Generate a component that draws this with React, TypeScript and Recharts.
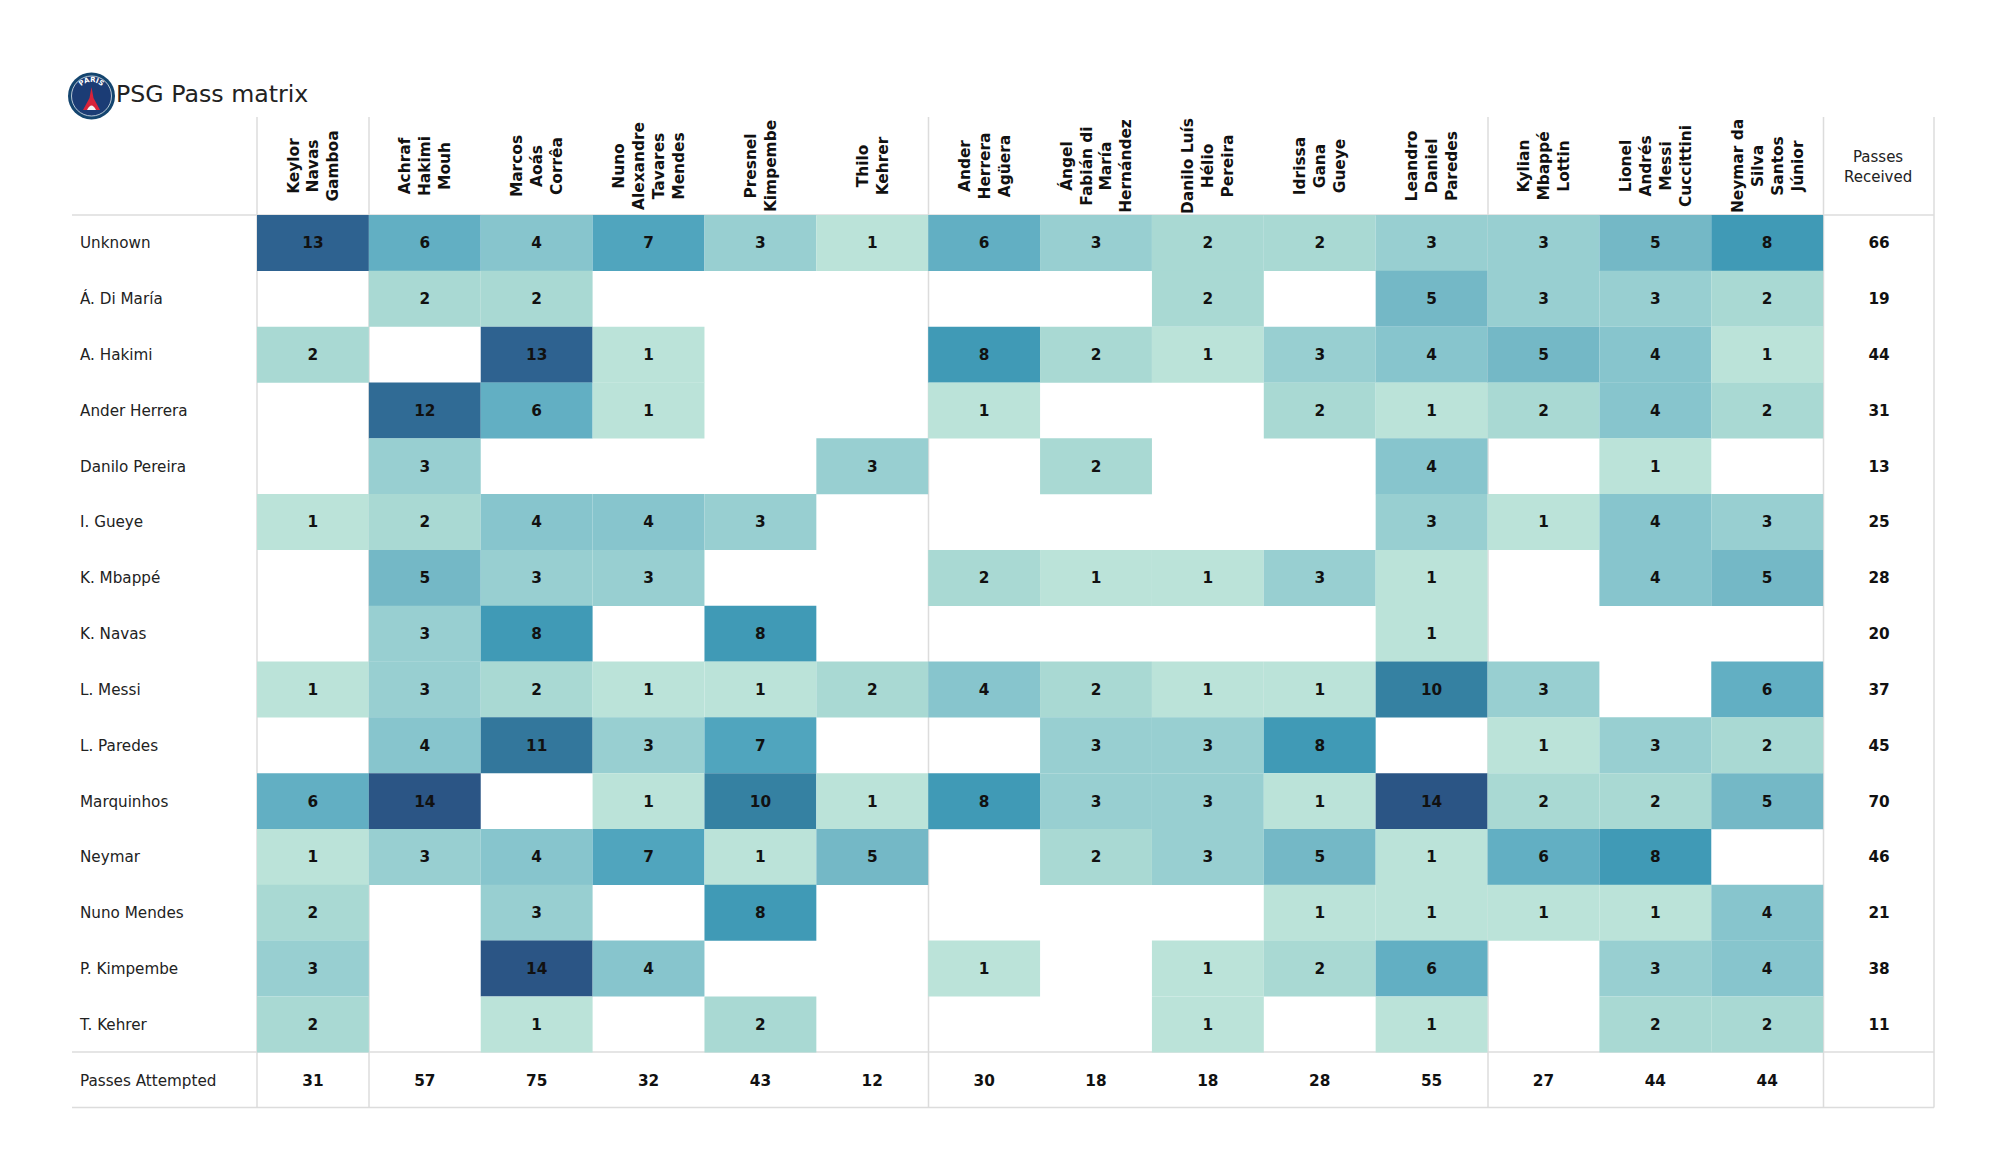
import { BarChart, Bar, Cell, LabelList, XAxis, YAxis } from 'recharts';

const FONT = '"DejaVu Sans", sans-serif';
const LINE = '#dcdcdc';

const receivers = [
  ['Keylor', 'Navas', 'Gamboa'],
  ['Achraf', 'Hakimi', 'Mouh'],
  ['Marcos', 'Aoás', 'Corrêa'],
  ['Nuno', 'Alexandre', 'Tavares', 'Mendes'],
  ['Presnel', 'Kimpembe'],
  ['Thilo', 'Kehrer'],
  ['Ander', 'Herrera', 'Agüera'],
  ['Ángel', 'Fabián di', 'María', 'Hernández'],
  ['Danilo Luís', 'Hélio', 'Pereira'],
  ['Idrissa', 'Gana', 'Gueye'],
  ['Leandro', 'Daniel', 'Paredes'],
  ['Kylian', 'Mbappé', 'Lottin'],
  ['Lionel', 'Andrés', 'Messi', 'Cuccittini'],
  ['Neymar da', 'Silva', 'Santos', 'Júnior'],
];

const passers = [
  'Unknown', 'Á. Di María', 'A. Hakimi', 'Ander Herrera', 'Danilo Pereira',
  'I. Gueye', 'K. Mbappé', 'K. Navas', 'L. Messi', 'L. Paredes',
  'Marquinhos', 'Neymar', 'Nuno Mendes', 'P. Kimpembe', 'T. Kehrer',
];

const _ = null;
const passMatrix = [
  [13, 6, 4, 7, 3, 1, 6, 3, 2, 2, 3, 3, 5, 8],
  [_, 2, 2, _, _, _, _, _, 2, _, 5, 3, 3, 2],
  [2, _, 13, 1, _, _, 8, 2, 1, 3, 4, 5, 4, 1],
  [_, 12, 6, 1, _, _, 1, _, _, 2, 1, 2, 4, 2],
  [_, 3, _, _, _, 3, _, 2, _, _, 4, _, 1, _],
  [1, 2, 4, 4, 3, _, _, _, _, _, 3, 1, 4, 3],
  [_, 5, 3, 3, _, _, 2, 1, 1, 3, 1, _, 4, 5],
  [_, 3, 8, _, 8, _, _, _, _, _, 1, _, _, _],
  [1, 3, 2, 1, 1, 2, 4, 2, 1, 1, 10, 3, _, 6],
  [_, 4, 11, 3, 7, _, _, 3, 3, 8, _, 1, 3, 2],
  [6, 14, _, 1, 10, 1, 8, 3, 3, 1, 14, 2, 2, 5],
  [1, 3, 4, 7, 1, 5, _, 2, 3, 5, 1, 6, 8, _],
  [2, _, 3, _, 8, _, _, _, _, 1, 1, 1, 1, 4],
  [3, _, 14, 4, _, _, 1, _, 1, 2, 6, _, 3, 4],
  [2, _, 1, _, 2, _, _, _, 1, _, 1, _, 2, 2],
];

const passesReceived = [66, 19, 44, 31, 13, 25, 28, 20, 37, 45, 70, 46, 21, 38, 11];
const passesAttempted = [31, 57, 75, 32, 43, 12, 30, 18, 18, 28, 55, 27, 44, 44];

// colour per pass count
const countColors: Record<number, string> = {
  1: '#bbe3d9', 2: '#a9d9d3', 3: '#98cfd1', 4: '#87c5cd', 5: '#74b8c6',
  6: '#62afc3', 7: '#50a5be', 8: '#409ab6', 10: '#3581a2', 11: '#33779c',
  12: '#306b95', 13: '#2e6290', 14: '#2b5585',
};

const columnKeys = Array.from({ length: 15 }, (_v, i) => `v${i}`);

const tableRows = [
  ...passers.map((name, r) => {
    const row: Record<string, string | number | null> = { name };
    passMatrix[r].forEach((v, c) => (row[`v${c}`] = v));
    row.v14 = passesReceived[r];
    return row;
  }),
  (() => {
    const row: Record<string, string | number | null> = { name: 'Passes Attempted' };
    passesAttempted.forEach((v, c) => (row[`v${c}`] = v));
    row.v14 = null;
    return row;
  })(),
];

const columnTicks = columnKeys.map((_k, i) => i + 0.5);

// frame positions of the table
const frameColumnX = [257, 369, 928.5, 1488, 1823.5, 1934];
const frameRowY = [215, 1052, 1107.5];

function ReceiverTick({ x, payload }: any) {
  const col = Math.floor(payload.value);
  if (col === 14) {
    return (
      <text x={x - 1} y={156.5} textAnchor="middle" fontFamily={FONT} fontSize={15} fill="#222">
        <tspan x={x - 1} dy={5}>Passes</tspan>
        <tspan x={x - 1} dy={20}>Received</tspan>
      </text>
    );
  }
  const lines = receivers[col];
  return (
    <g transform={`translate(${x}, 166) rotate(-90)`}>
      {lines.map((line, i) => (
        <text
          key={line}
          x={0}
          y={(i - (lines.length - 1) / 2) * 19.9 + 5.5}
          textAnchor="middle"
          fontFamily={FONT}
          fontSize={15.4}
          fontWeight="bold"
          fill="#111"
        >
          {line}
        </text>
      ))}
    </g>
  );
}

function PasserTick({ y, payload }: any) {
  return (
    <text x={80} y={y + 5.5} fontFamily={FONT} fontSize={15.2} fill="#222">
      {payload.value}
    </text>
  );
}

function Crest() {
  return (
    <g>
      <defs>
        <path id="crestArc" d="M77.5 96 A14 14 0 0 1 105.5 96" />
      </defs>
      <circle cx={91.5} cy={96} r={23.5} fill="#14456f" />
      <circle cx={91.5} cy={96} r={20} fill="#1b3c75" stroke="#dfe8ee" strokeWidth={0.8} />
      <text fontFamily={FONT} fontSize={7} fontWeight="bold" fill="#fff" textAnchor="middle">
        <textPath href="#crestArc" startOffset="50%">PARIS</textPath>
      </text>
      <path d="M91.5 87 L93.5 98 L100 110 L83 110 L89.5 98 Z" fill="#d8233a" />
      <path d="M87 110 Q91.5 101 96 110 Z" fill="#f4f4f4" />
    </g>
  );
}

export default function App() {
  return (
    <div style={{ position: 'absolute', left: 0, top: 0, width: 2000, height: 1175, background: '#fff' }}>
      <svg width={2000} height={1175} style={{ position: 'absolute', left: 0, top: 0 }}>
        {frameColumnX.map((x) => (
          <line key={x} x1={x} x2={x} y1={117} y2={1107.5} stroke={LINE} strokeWidth={1.5} />
        ))}
        {frameRowY.map((y) => (
          <line key={y} x1={72} x2={1934} y1={y} y2={y} stroke={LINE} strokeWidth={1.5} />
        ))}
        <Crest />
        <text x={116} y={102} fontFamily={FONT} fontSize={23.7} fill="#222">
          PSG Pass matrix
        </text>
      </svg>
      <div style={{ position: 'absolute', left: 0, top: 0 }}>
        <BarChart
          width={2000}
          height={1175}
          data={tableRows}
          layout="vertical"
          barCategoryGap={0}
          margin={{ top: 117, right: 65, bottom: 67, left: 0 }}
        >
          <XAxis
            xAxisId={0}
            type="number"
            orientation="top"
            domain={[0, 15]}
            ticks={columnTicks}
            interval={0}
            height={98}
            axisLine={false}
            tickLine={false}
            tick={<ReceiverTick />}
          />
          <YAxis
            type="category"
            dataKey="name"
            width={257}
            interval={0}
            axisLine={false}
            tickLine={false}
            tick={<PasserTick />}
          />
          {columnKeys.map((key, c) => (
            <Bar key={key} dataKey={() => 1} name={key} stackId="cells" isAnimationActive={false}>
              {tableRows.map((row, r) => {
                const value = row[key] as number | null;
                const filled = c < 14 && r < 15 && value !== null;
                return <Cell key={r} fill={filled ? countColors[value as number] : 'transparent'} />;
              })}
              <LabelList
                dataKey={key}
                position="center"
                fontFamily={FONT}
                fontSize={15.3}
                fontWeight="bold"
                fill="#111"
              />
            </Bar>
          ))}
        </BarChart>
      </div>
    </div>
  );
}
